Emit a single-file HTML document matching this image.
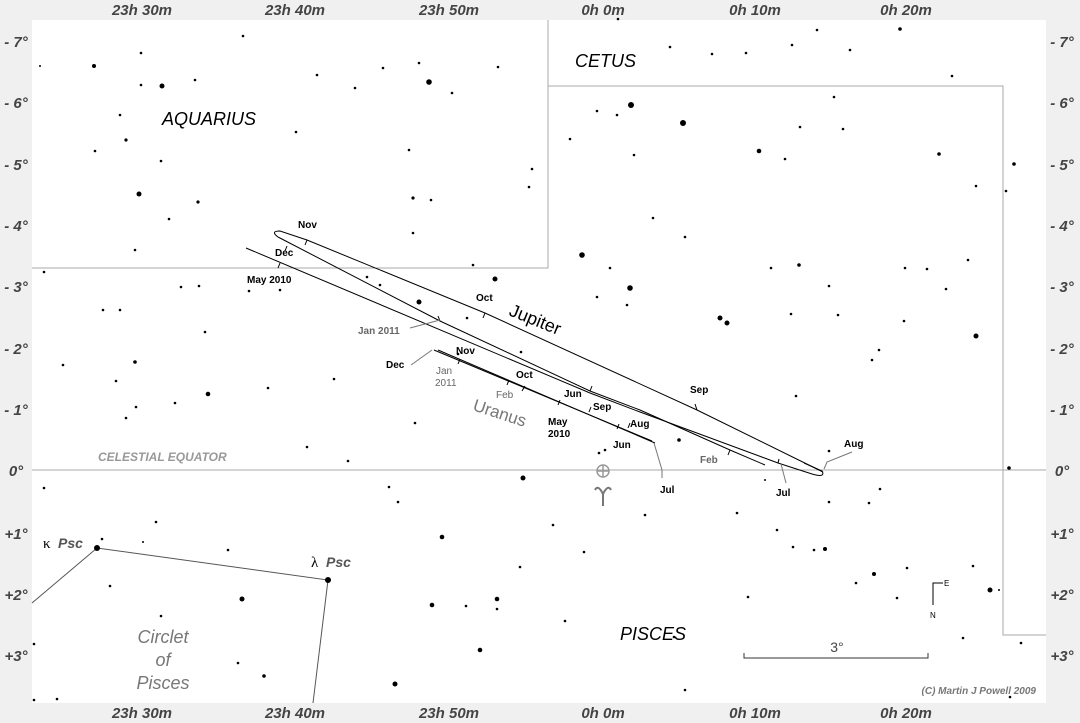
<!DOCTYPE html>
<html><head><meta charset="utf-8"><style>
html,body{margin:0;padding:0;background:#f0f0f0;}
svg{display:block;}
.ax{font:bold italic 15px "Liberation Sans",sans-serif;fill:#444;}
.m{font:bold 10px "Liberation Sans",sans-serif;fill:#000;}
.g{font:bold 10px "Liberation Sans",sans-serif;fill:#666;}
.con{font:italic 18px "Liberation Sans",sans-serif;fill:#000;}
</style></head><body>
<svg width="1080" height="723" viewBox="0 0 1080 723" xmlns="http://www.w3.org/2000/svg">
<rect x="0" y="0" width="1080" height="723" fill="#f0f0f0"/>
<rect x="32" y="20" width="1014" height="683" fill="#fff"/>
<g class="ax" text-anchor="middle">
<text x="142" y="15">23h 30m</text><text x="295" y="15">23h 40m</text><text x="449" y="15">23h 50m</text><text x="603" y="15">0h 0m</text><text x="755" y="15">0h 10m</text><text x="906" y="15">0h 20m</text>
<text x="142" y="718">23h 30m</text><text x="295" y="718">23h 40m</text><text x="449" y="718">23h 50m</text><text x="603" y="718">0h 0m</text><text x="755" y="718">0h 10m</text><text x="906" y="718">0h 20m</text>
</g>
<g class="ax" text-anchor="middle">
<text x="16" y="47">- 7°</text><text x="16" y="108">- 6°</text><text x="16" y="170">- 5°</text><text x="16" y="231">- 4°</text><text x="16" y="292">- 3°</text><text x="16" y="354">- 2°</text><text x="16" y="415">- 1°</text><text x="16" y="476">0°</text><text x="16" y="539">+1°</text><text x="16" y="600">+2°</text><text x="16" y="661">+3°</text>
<text x="1062" y="47">- 7°</text><text x="1062" y="108">- 6°</text><text x="1062" y="170">- 5°</text><text x="1062" y="231">- 4°</text><text x="1062" y="292">- 3°</text><text x="1062" y="354">- 2°</text><text x="1062" y="415">- 1°</text><text x="1062" y="476">0°</text><text x="1062" y="539">+1°</text><text x="1062" y="600">+2°</text><text x="1062" y="661">+3°</text>
</g>
<g stroke="#aaa" fill="none" stroke-width="1">
<polyline points="548,20 548,268 32,268"/>
<polyline points="548,86 1003,86 1003,635 1046,635"/>
<line x1="32" y1="470" x2="1046" y2="470"/>
</g>
<g stroke="#555" stroke-width="1" fill="none">
<polyline points="32,603 97,548 328,580 313,703"/>
</g>
<g fill="#000">
<circle cx="97" cy="548" r="3"/><circle cx="328" cy="580" r="3"/>
</g>
<g fill="#000" id="stars">
<circle cx="40" cy="66" r="1"/><circle cx="94" cy="66" r="2"/><circle cx="141" cy="53" r="1.3"/><circle cx="162" cy="86" r="2.5"/><circle cx="141" cy="85" r="1.3"/><circle cx="195" cy="80" r="1.3"/><circle cx="243" cy="36" r="1.3"/><circle cx="120" cy="115" r="1.3"/><circle cx="126" cy="140" r="1.6"/><circle cx="95" cy="151" r="1.3"/><circle cx="161" cy="161" r="1.3"/><circle cx="139" cy="194" r="2.5"/><circle cx="169" cy="219" r="1.3"/><circle cx="198" cy="202" r="1.6"/><circle cx="135" cy="250" r="1.3"/><circle cx="44" cy="272" r="1.3"/><circle cx="296" cy="132" r="1.3"/><circle cx="317" cy="75" r="1.3"/><circle cx="355" cy="88" r="1.3"/><circle cx="383" cy="68" r="1.3"/><circle cx="429" cy="82" r="2.8"/><circle cx="419" cy="63" r="1.3"/><circle cx="409" cy="150" r="1.3"/><circle cx="413" cy="198" r="1.6"/><circle cx="431" cy="200" r="1.3"/><circle cx="413" cy="233" r="1.3"/><circle cx="473" cy="265" r="1.3"/><circle cx="498" cy="67" r="1.3"/><circle cx="532" cy="169" r="1.3"/><circle cx="529" cy="187" r="1.3"/><circle cx="452" cy="93" r="1.3"/>
<circle cx="618" cy="19" r="1.3"/><circle cx="670" cy="47" r="1.3"/><circle cx="712" cy="54" r="1.3"/><circle cx="746" cy="53" r="1.3"/><circle cx="792" cy="45" r="1.3"/><circle cx="817" cy="30" r="1.3"/><circle cx="850" cy="50" r="1.3"/><circle cx="900" cy="29" r="1.8"/><circle cx="952" cy="76" r="1.3"/><circle cx="597" cy="111" r="1.3"/><circle cx="617" cy="115" r="1.3"/><circle cx="631" cy="105" r="3"/><circle cx="683" cy="123" r="3"/><circle cx="634" cy="155" r="1.3"/><circle cx="570" cy="139" r="1.3"/><circle cx="759" cy="151" r="2.3"/><circle cx="785" cy="159" r="1.3"/><circle cx="800" cy="127" r="1.3"/><circle cx="834" cy="97" r="1.3"/><circle cx="843" cy="129" r="1.3"/><circle cx="939" cy="154" r="1.8"/><circle cx="1014" cy="164" r="1.8"/><circle cx="1006" cy="191" r="1.3"/><circle cx="976" cy="186" r="1.3"/>
<circle cx="653" cy="218" r="1.3"/><circle cx="685" cy="237" r="1.3"/><circle cx="582" cy="255" r="2.8"/><circle cx="610" cy="268" r="1.3"/><circle cx="630" cy="288" r="2.8"/><circle cx="597" cy="297" r="1.3"/><circle cx="627" cy="305" r="1.3"/><circle cx="771" cy="268" r="1.3"/><circle cx="799" cy="265" r="1.8"/><circle cx="829" cy="286" r="1.3"/><circle cx="905" cy="268" r="1.3"/><circle cx="927" cy="269" r="1.3"/><circle cx="968" cy="260" r="1.3"/><circle cx="946" cy="289" r="1.3"/><circle cx="720" cy="318" r="2.5"/><circle cx="727" cy="323" r="2.5"/><circle cx="791" cy="314" r="1.3"/><circle cx="838" cy="315" r="1.3"/><circle cx="904" cy="321" r="1.3"/><circle cx="976" cy="336" r="2.5"/><circle cx="879" cy="350" r="1.3"/><circle cx="872" cy="360" r="1.3"/>
<circle cx="495" cy="279" r="2.5"/><circle cx="419" cy="302" r="2.5"/><circle cx="467" cy="318" r="1.3"/><circle cx="521" cy="352" r="1.3"/><circle cx="458" cy="354" r="1.3"/><circle cx="367" cy="277" r="1.3"/><circle cx="380" cy="285" r="1.3"/><circle cx="199" cy="286" r="1.3"/><circle cx="181" cy="287" r="1.3"/><circle cx="249" cy="291" r="1.3"/><circle cx="280" cy="290" r="1.3"/><circle cx="205" cy="332" r="1.3"/><circle cx="103" cy="310" r="1.3"/><circle cx="120" cy="310" r="1.3"/><circle cx="135" cy="362" r="1.8"/><circle cx="63" cy="365" r="1.3"/><circle cx="116" cy="381" r="1.3"/><circle cx="136" cy="407" r="1.3"/><circle cx="126" cy="418" r="1.3"/><circle cx="175" cy="403" r="1.3"/><circle cx="208" cy="394" r="2.3"/><circle cx="268" cy="388" r="1.3"/><circle cx="334" cy="379" r="1.3"/><circle cx="415" cy="423" r="1.3"/><circle cx="307" cy="447" r="1.3"/><circle cx="348" cy="461" r="1.3"/><circle cx="599" cy="453" r="1.3"/><circle cx="605" cy="450" r="1.3"/><circle cx="679" cy="440" r="1.8"/><circle cx="796" cy="396" r="1.3"/><circle cx="829" cy="451" r="1.3"/><circle cx="1009" cy="468" r="1.8"/>
<circle cx="44" cy="488" r="1.3"/><circle cx="156" cy="522" r="1.3"/><circle cx="102" cy="539" r="1.3"/><circle cx="143" cy="542" r="1"/><circle cx="228" cy="550" r="1.3"/><circle cx="110" cy="586" r="1.3"/><circle cx="161" cy="616" r="1.3"/><circle cx="242" cy="599" r="2.5"/><circle cx="238" cy="663" r="1.3"/><circle cx="34" cy="644" r="1.3"/><circle cx="34" cy="700" r="1.3"/><circle cx="57" cy="699" r="1.3"/><circle cx="264" cy="676" r="1.8"/><circle cx="395" cy="684" r="2.5"/><circle cx="389" cy="487" r="1.3"/><circle cx="398" cy="502" r="1.3"/><circle cx="442" cy="537" r="2.3"/><circle cx="432" cy="605" r="2.3"/><circle cx="466" cy="606" r="1.3"/><circle cx="497" cy="599" r="2.3"/><circle cx="497" cy="609" r="1.3"/><circle cx="480" cy="650" r="2.3"/><circle cx="520" cy="567" r="1.3"/><circle cx="523" cy="478" r="2.5"/><circle cx="553" cy="525" r="1.3"/><circle cx="565" cy="621" r="1.3"/><circle cx="584" cy="552" r="1.3"/><circle cx="645" cy="515" r="1.3"/><circle cx="674" cy="637" r="1.3"/><circle cx="685" cy="690" r="1.3"/><circle cx="737" cy="513" r="1.3"/><circle cx="748" cy="597" r="1.3"/><circle cx="765" cy="480" r="1"/><circle cx="777" cy="530" r="1.3"/><circle cx="793" cy="547" r="1.3"/><circle cx="814" cy="550" r="1.3"/><circle cx="825" cy="549" r="2"/><circle cx="829" cy="502" r="1.3"/><circle cx="856" cy="583" r="1.3"/><circle cx="874" cy="574" r="2"/><circle cx="907" cy="568" r="1.3"/><circle cx="869" cy="503" r="1.3"/><circle cx="880" cy="489" r="1.3"/><circle cx="897" cy="598" r="1.3"/><circle cx="963" cy="638" r="1.3"/><circle cx="973" cy="566" r="1.3"/><circle cx="990" cy="590" r="2.5"/><circle cx="999" cy="590" r="1"/><circle cx="1021" cy="643" r="1.3"/><circle cx="1010" cy="697" r="1.3"/>
</g>
<!-- Jupiter path -->
<g stroke="#000" fill="none" stroke-width="1">
<path d="M246,248 L590,393 L640,412 L778,463 L812,474 Q826,478 822,471 L804,463"/>
<path d="M823,472 L697,410 L485,313 L307,240 L280,231 Q270,231 278,237"/>
<path d="M278,237 L440,321 L590,391 L640,410 L730,450 L765,465"/>
</g>
<!-- Uranus -->
<g stroke="#000" fill="none" stroke-width="1">
<path d="M434,350 L652,441"/>
<path d="M438,350 L655,443"/>
</g>
<!-- ticks -->
<g stroke="#000" stroke-width="1">
<line x1="307" y1="240" x2="305" y2="245"/><line x1="287" y1="246" x2="285" y2="251"/><line x1="280" y1="263" x2="278" y2="268"/><line x1="485" y1="313" x2="483" y2="318"/><line x1="697" y1="410" x2="695" y2="404"/><line x1="440" y1="321" x2="438" y2="316"/><line x1="590" y1="391" x2="592" y2="386"/><line x1="730" y1="450" x2="728" y2="455"/><line x1="778" y1="463" x2="779" y2="459"/>
<line x1="460" y1="359" x2="458" y2="364"/><line x1="525" y1="386" x2="522" y2="391"/><line x1="509" y1="380" x2="507" y2="385"/><line x1="560" y1="400" x2="558" y2="405"/><line x1="589" y1="412" x2="591" y2="407"/><line x1="628" y1="428" x2="630" y2="423"/><line x1="619" y1="424" x2="617" y2="429"/>
</g>
<g stroke="#777" stroke-width="1" fill="none">
<polyline points="411,365 432,350"/><polyline points="410,328 440,320"/><polyline points="654,443 662,470 662,478"/><polyline points="781,464 786,483"/><polyline points="824,469 827,462 852,452"/>
</g>
<!-- labels -->
<g class="m">
<text x="298" y="228">Nov</text><text x="275" y="256">Dec</text><text x="247" y="283">May 2010</text><text x="476" y="301">Oct</text><text x="690" y="393">Sep</text><text x="844" y="447">Aug</text><text x="776" y="496">Jul</text><text x="660" y="493">Jul</text>
<text x="456" y="354">Nov</text><text x="386" y="368">Dec</text><text x="516" y="378">Oct</text><text x="564" y="397">Jun</text><text x="593" y="410">Sep</text><text x="630" y="427">Aug</text><text x="613" y="448">Jun</text><text x="548" y="425">May</text><text x="548" y="437">2010</text>
</g>
<g class="g">
<text x="358" y="334">Jan 2011</text><text x="436" y="374" font-weight="normal">Jan</text><text x="435" y="386" font-weight="normal">2011</text><text x="496" y="398" font-weight="normal">Feb</text><text x="700" y="463">Feb</text>
</g>
<text x="508" y="315" transform="rotate(22 508 315)" style="font:18px 'Liberation Sans',sans-serif;fill:#000">Jupiter</text>
<text x="472" y="410" transform="rotate(18 472 410)" style="font:17px 'Liberation Sans',sans-serif;fill:#777">Uranus</text>
<text x="98" y="461" style="font:bold italic 12px 'Liberation Sans',sans-serif;fill:#999">CELESTIAL EQUATOR</text>
<text x="162" y="125" class="con">AQUARIUS</text>
<text x="575" y="67" class="con">CETUS</text>
<text x="620" y="640" class="con">PISCES</text>
<g style="font:italic 18px 'Liberation Sans',sans-serif;fill:#777" text-anchor="middle">
<text x="163" y="643">Circlet</text><text x="163" y="666">of</text><text x="163" y="689">Pisces</text>
</g>
<text x="43" y="548" style="font:15px 'Liberation Serif',serif;fill:#000">κ</text><text x="58" y="548" style="font:bold italic 14px 'Liberation Sans',sans-serif;fill:#555">Psc</text>
<text x="311" y="567" style="font:15px 'Liberation Serif',serif;fill:#000">λ</text><text x="326" y="567" style="font:bold italic 14px 'Liberation Sans',sans-serif;fill:#555">Psc</text>
<!-- vernal equinox -->
<g stroke="#999" stroke-width="1.5" fill="none"><circle cx="603" cy="471" r="6"/><line x1="597" y1="471" x2="609" y2="471"/><line x1="603" y1="465" x2="603" y2="477"/></g>
<path d="M595,490 Q598,484 603,494 L603,506 M603,494 Q608,484 611,490" stroke="#777" stroke-width="2" fill="none"/>
<!-- compass -->
<polyline points="943,583 933,583 933,605" stroke="#000" fill="none"/>
<text x="944" y="586" style="font:8px 'Liberation Sans',sans-serif">E</text>
<text x="930" y="618" style="font:8px 'Liberation Sans',sans-serif">N</text>
<!-- scale -->
<polyline points="744,653 744,658 928,658 928,653" stroke="#333" fill="none"/>
<text x="837" y="652" text-anchor="middle" style="font:14px 'Liberation Sans',sans-serif;fill:#444">3°</text>
<text x="1036" y="694" text-anchor="end" style="font:italic bold 10px 'Liberation Sans',sans-serif;fill:#777">(C) Martin J Powell  2009</text>
</svg>
</body></html>
